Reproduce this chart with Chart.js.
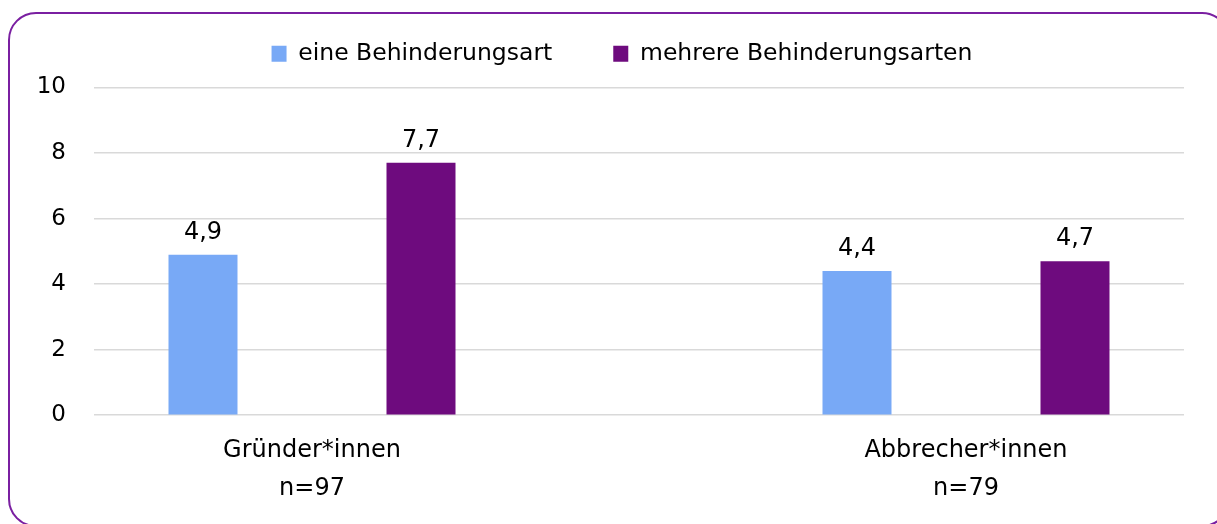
<!DOCTYPE html>
<html lang="de">
<head>
<meta charset="utf-8">
<title>Behinderungsarten</title>
<script src="https://cdn.jsdelivr.net/npm/chart.js@4.4.1/dist/chart.umd.min.js"></script>
<style>
  html, body { margin: 0; padding: 0; background: #fff; }
  .wrap { position: relative; width: 1217px; height: 524px; overflow: hidden; background: #fff; }
  .frame {
    position: absolute; left: 8px; top: 12px; width: 1222px; height: 515px;
    border: 2px solid #7a1fa1; border-radius: 28px; box-sizing: border-box;
  }
  #chart { position: absolute; left: 0; top: -19px; }
</style>
</head>
<body>
<div class="wrap">
  <div class="frame"></div>
  <canvas id="chart" width="1217" height="543"></canvas>
</div>
<script>
const groups = ["Gründer*innen", "Abbrecher*innen"];
const sampleSizes = ["n=97", "n=79"];
const eineArt = [4.9, 4.4];
const mehrereArten = [7.7, 4.7];
const seriesNames = ["eine Behinderungsart", "mehrere Behinderungsarten"];
const seriesColors = ["#78a9f6", "#6e0b7e"];

// the axis has six slots; the two groups sit on slots 1 and 4
const groupSlots = [1, 4];
const slotLabels = ["", "", "", "", "", ""];
const slotEine = [null, null, null, null, null, null];
const slotMehrere = [null, null, null, null, null, null];
groupSlots.forEach((slot, i) => {
  slotLabels[slot] = [groups[i], sampleSizes[i]];
  slotEine[slot] = eineArt[i];
  slotMehrere[slot] = mehrereArten[i];
});

const fontFamily = "'DejaVu Sans', sans-serif";

// more room under the legend, and nudge its row a bit to the right
const legendSpacing = {
  id: "legendSpacing",
  beforeInit(chart) {
    const fitLegend = chart.legend.fit;
    chart.legend.fit = function fit() {
      fitLegend.bind(chart.legend)();
      this.height += 12;
      if (this.lineWidths) this.lineWidths[0] -= 60;
    };
  }
};

// value above each bar, German decimal comma
const valueLabels = {
  id: "valueLabels",
  afterDatasetsDraw(chart) {
    const ctx = chart.ctx;
    ctx.save();
    ctx.font = "24px " + fontFamily;
    ctx.fillStyle = "#000";
    ctx.textAlign = "center";
    ctx.textBaseline = "alphabetic";
    chart.data.datasets.forEach((ds, di) => {
      const meta = chart.getDatasetMeta(di);
      meta.data.forEach((bar, i) => {
        const v = ds.data[i];
        if (v === null) return;
        ctx.fillText(v.toFixed(1).replace(".", ","), bar.x, bar.y - 16);
      });
    });
    ctx.restore();
  }
};

const ctx = document.getElementById("chart").getContext("2d");

new Chart(ctx, {
  type: "bar",
  data: {
    labels: slotLabels,
    datasets: [
      {
        label: seriesNames[0],
        data: slotEine,
        backgroundColor: seriesColors[0],
        borderWidth: 0,
        categoryPercentage: 2,
        barPercentage: 0.3165
      },
      {
        label: seriesNames[1],
        data: slotMehrere,
        backgroundColor: seriesColors[1],
        borderWidth: 0,
        categoryPercentage: 2,
        barPercentage: 0.3165
      }
    ]
  },
  options: {
    responsive: false,
    animation: false,
    layout: { padding: { left: 0, right: 33, top: 0, bottom: 0 } },
    plugins: {
      tooltip: { enabled: false },
      legend: {
        position: "top",
        labels: {
          boxWidth: 15,
          boxHeight: 16,
          padding: 61,
          color: "#000",
          font: { family: fontFamily, size: 23.5 }
        }
      }
    },
    scales: {
      x: {
        offset: false,
        grid: { display: false, offset: false, drawTicks: false },
        border: { display: false },
        ticks: {
          autoSkip: false,
          maxRotation: 0,
          padding: 16,
          color: "#000",
          font: { family: fontFamily, size: 24, lineHeight: 1.6 }
        }
      },
      y: {
        min: 0,
        max: 10,
        afterFit(scale) { scale.width = 94; },
        grid: { color: "#d9d9d9", lineWidth: 1.5, drawTicks: false },
        border: { display: false },
        ticks: {
          stepSize: 2,
          padding: 28,
          color: "#000",
          font: { family: fontFamily, size: 23 }
        }
      }
    }
  },
  plugins: [legendSpacing, valueLabels]
});
</script>
</body>
</html>
